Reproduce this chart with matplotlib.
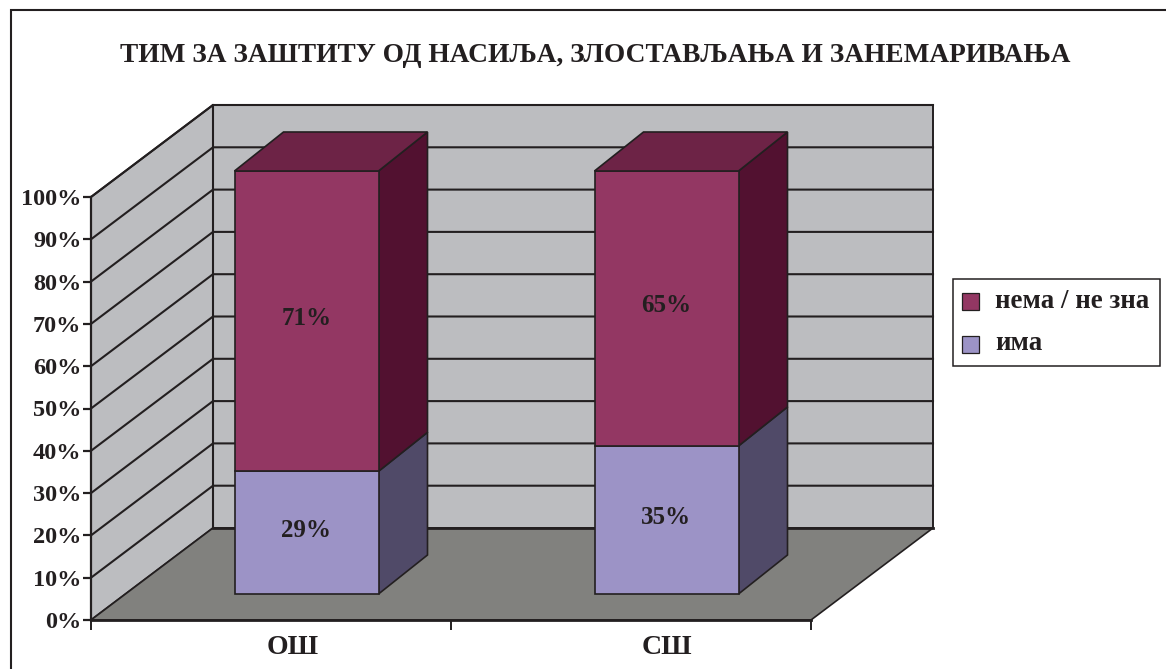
import matplotlib
matplotlib.use("Agg")
import matplotlib.pyplot as plt
from matplotlib.lines import Line2D
from matplotlib.patches import Polygon, Rectangle

W, H = 1166, 669
categories = ["ОШ", "СШ"]
series_names = ["има", "нема / не зна"]
ima = [29, 35]
nema = [71, 65]
labels_ima = ["29%", "35%"]
labels_nema = ["71%", "65%"]
yticks = list(range(0, 101, 10))
title = "ТИМ ЗА ЗАШТИТУ ОД НАСИЉА, ЗЛОСТАВЉАЊА И ЗАНЕМАРИВАЊА"

C_WALL = "#bcbdc0"
C_FLOOR = "#81817e"
C_LINE = "#231f20"
C_TOP = "#6d2346"
C_FRONT = ["#9c93c6", "#933763"]
C_SIDE = ["#504a68", "#521130"]

FONT = ["Liberation Serif", "DejaVu Serif"]

fig = plt.figure(figsize=(W / 100, H / 100), dpi=100, facecolor="white")
# front plane of the chart: x 91..811 px, y 197..620 px
ax = fig.add_axes([91 / W, 1 - 620 / H, 720 / W, 423 / H])
ax.set_xlim(0, 2)
ax.set_ylim(0, 100)
ax.patch.set_visible(False)
for s in ax.spines.values():
    s.set_visible(False)

sx = 2 / 720   # data per pixel
sy = 100 / 423
DX, DY = 122 * sx, 92 * sy          # depth of the box
BX, BY = 49 * sx, 39 * sy           # depth of a bar
OFFY = 26 * sy                      # bar front offset from front plane
OFFX = 35.5 * sx                    # bar centre offset from category centre
BAR_W = 144 * sx
LABEL_UP = 2.5 * sy
CAT_SHIFT = [21.5 * sx, 36 * sx]    # category label offset from category centre


def poly(pts, fc, lw=1.0, ec=C_LINE, z=1):
    ax.add_patch(Polygon(pts, closed=True, fc=fc, ec=ec, lw=lw, zorder=z, clip_on=False,
                         joinstyle="miter"))


# walls and floor
poly([(0, 0), (DX, DY), (DX, 100 + DY), (0, 100)], C_WALL, 1.4)
poly([(DX, DY), (2 + DX, DY), (2 + DX, 100 + DY), (DX, 100 + DY)], C_WALL, 1.4)
poly([(0, 0), (2, 0), (2 + DX, DY), (DX, DY)], C_FLOOR, 1.2)

# gridlines
for t in yticks[1:]:
    ax.plot([0, DX, 2 + DX], [t, t + DY, t + DY], color=C_LINE, lw=1.5, zorder=2,
            clip_on=False, solid_joinstyle="miter")
ax.plot([DX, DX], [DY, 100 + DY], color=C_LINE, lw=1.5, zorder=2, clip_on=False)
ax.plot([0, 2], [0, 0], color=C_LINE, lw=2.0, zorder=2, clip_on=False)
ax.plot([DX, 2 + DX], [DY, DY], color=C_LINE, lw=2.0, zorder=2, clip_on=False)

# stacked 3D bars
for i in range(len(categories)):
    xc = i + 0.5 + OFFX
    x0, x1 = xc - BAR_W / 2, xc + BAR_W / 2
    bottom = OFFY
    for k, v in enumerate([ima[i], nema[i]]):
        top = bottom + v
        poly([(x1, bottom), (x1 + BX, bottom + BY), (x1 + BX, top + BY), (x1, top)],
             C_SIDE[k], 1.2, z=3)
        poly([(x0, bottom), (x1, bottom), (x1, top), (x0, top)], C_FRONT[k], 1.2, z=4)
        bottom = top
    poly([(x0, bottom), (x1, bottom), (x1 + BX, bottom + BY), (x0 + BX, bottom + BY)],
         C_TOP, 1.2, z=4)
    ax.text(xc, OFFY + ima[i] / 2 + LABEL_UP, labels_ima[i], ha="center", va="center",
            family=FONT, weight="bold", fontsize=18, color=C_LINE, zorder=6)
    ax.text(xc, OFFY + ima[i] + nema[i] / 2 + LABEL_UP, labels_nema[i], ha="center", va="center",
            family=FONT, weight="bold", fontsize=18, color=C_LINE, zorder=6)

# axes ticks
ax.set_yticks(yticks)
ax.set_yticklabels([f"{t}%" for t in yticks], family=FONT, weight="bold", fontsize=17.5, color=C_LINE)
ax.set_xticks([0, 1, 2])
ax.set_xticklabels([])
ax.tick_params(axis="y", length=6, width=1.6, color=C_LINE, pad=1)
ax.tick_params(axis="x", length=7, width=1.4, color=C_LINE)
ax.spines["left"].set_visible(True)
ax.spines["left"].set_linewidth(1.6)
ax.spines["left"].set_color(C_LINE)
ax.spines["left"].set_zorder(5)
for i, c in enumerate(categories):
    ax.text(i + 0.5 + CAT_SHIFT[i], -27 * sy, c, ha="center", va="center",
            family=FONT, weight="bold", fontsize=20, color=C_LINE, zorder=6, clip_on=False)

# outer frame: only the top and left edges fall inside the picture
fig.add_artist(Line2D([11 / W, 11 / W, 1], [0, 1 - 10 / H, 1 - 10 / H], color=C_LINE, lw=1.5,
                      solid_joinstyle="miter"))

# title
fig.text(595 / W, 1 - 56 / H, title, ha="center", va="center", family=FONT, weight="bold",
         fontsize=19.7, color=C_LINE)

# legend
fig.add_artist(Rectangle((953 / W, 1 - 366 / H), 207 / W, 87 / H, transform=fig.transFigure,
                         fc="white", ec=C_LINE, lw=1.1, zorder=5))
for k, yc in zip([1, 0], [301, 344]):
    fig.add_artist(Rectangle((962 / W, 1 - (yc + 9) / H), 17 / W, 17 / H, transform=fig.transFigure,
                             fc=C_FRONT[k], ec=C_LINE, lw=0.9, zorder=6))
    fig.text(995 / W, 1 - yc / H, series_names[k], ha="left", va="center", family=FONT,
             weight="bold", fontsize=19.4, color=C_LINE, zorder=7)

fig.savefig("out.png", dpi=100)
